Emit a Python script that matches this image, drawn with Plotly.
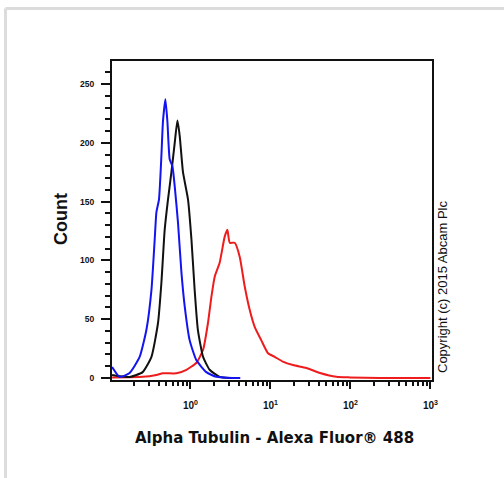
import plotly.graph_objects as go

# ---- data ----
blue_x = [0.105, 0.131, 0.174, 0.232, 0.282, 0.326, 0.358, 0.376, 0.405, 0.434, 0.454, 0.487,
          0.516, 0.551, 0.596, 0.637, 0.700, 0.772, 0.849, 0.98, 1.19, 1.58, 2.11, 3.38, 4.2]
blue_y = [9.4, 0.9, 4.3, 17.9, 41, 75, 118, 141, 152, 189, 218, 237,
          218, 186, 180, 163, 132, 90, 61, 32, 15, 5, 1, 0, 0]

black_x = [0.105, 0.174, 0.253, 0.326, 0.394, 0.434, 0.477, 0.525, 0.579, 0.637, 0.688,
           0.735, 0.808, 0.933, 1.03, 1.13, 1.24, 1.44, 1.74, 2.32, 3.10, 3.6]
black_y = [2.6, 0.9, 5, 18, 47, 81, 126, 152, 175, 200, 219,
           206, 175, 152, 118, 75, 41, 18, 7, 1, 0, 0]

red_x = [0.105, 0.253, 0.376, 0.454, 0.668, 0.891, 1.19, 1.44, 1.66, 1.83, 2.01, 2.32, 2.68,
         2.90, 3.10, 3.58, 4.14, 4.77, 5.51, 6.36, 7.70, 9.34, 11.3, 14.3, 19.2, 28.1, 41.7,
         66.8, 98.5, 232, 1000]
red_y = [0.5, 1, 2.6, 4, 4, 7, 13, 24, 47, 69, 86, 98, 120,
         126, 115, 115, 103, 78, 58, 43.5, 32, 21, 18, 14, 11, 8.5, 4.3,
         1, 0.5, 0, 0]

x_major = [1, 10, 100, 1000]
x_major_text = ["10<sup>0</sup>", "10<sup>1</sup>", "10<sup>2</sup>", "10<sup>3</sup>"]
x_minor = [m * 10 ** e for e in (-1, 0, 1, 2) for m in range(2, 10)]
y_major = [0, 50, 100, 150, 200, 250]

x_title = "Alpha Tubulin - Alexa Fluor® 488"
y_title = "Count"
copyright_text = "Copyright (c) 2015 Abcam Plc"

fig = go.Figure()
for xs, ys, col in [(red_x, red_y, "#ee1c1c"), (black_x, black_y, "#111111"), (blue_x, blue_y, "#1414f0")]:
    fig.add_trace(go.Scatter(x=xs, y=ys, mode="lines",
                             line=dict(color=col, width=2, shape="spline", smoothing=0.5),
                             hoverinfo="skip", showlegend=False))

L, R, T, B = 112, 432, 61, 380
W, H = 504, 478

fig.update_layout(
    width=W, height=H,
    margin=dict(l=L, r=W - R, t=T, b=H - B, pad=0),
    paper_bgcolor="white", plot_bgcolor="white",
    font=dict(family="Arial, Liberation Sans, sans-serif", color="#111111"),
    xaxis=dict(type="log", range=[-0.98, 3.02], showgrid=False, zeroline=False,
               showline=True, linecolor="#111111", linewidth=2, mirror=True,
               ticks="outside", ticklen=7, tickwidth=2, tickcolor="#111111",
               tickmode="array", tickvals=x_major, ticktext=x_major_text,
               tickfont=dict(size=10, weight="bold"), ticklabelstandoff=8,
               minor=dict(tickmode="array", tickvals=x_minor, ticks="outside",
                          ticklen=4, tickwidth=1.5, tickcolor="#111111", showgrid=False)),
    yaxis=dict(range=[-1.7, 269.6], showgrid=False, zeroline=False,
               showline=True, linecolor="#111111", linewidth=2, mirror=True,
               ticks="outside", ticklen=9, tickwidth=2, tickcolor="#111111",
               tickmode="array", tickvals=y_major,
               tickfont=dict(size=8.5, weight="bold"), ticklabelstandoff=5,
               minor=dict(dtick=10, ticks="outside", ticklen=5, tickwidth=1.5,
                          tickcolor="#111111", showgrid=False)),
)

def px(xp):
    return (xp - L) / (R - L)

def py(yp):
    return (B - yp) / (B - T)

fig.add_annotation(text=x_title, xref="paper", yref="paper", x=px(274), y=py(438),
                   showarrow=False,
                   font=dict(family="DejaVu Sans, Arial, sans-serif", size=15, weight="bold", color="#111111"),
                   xanchor="center", yanchor="middle")
fig.add_annotation(text=y_title, xref="paper", yref="paper", x=px(61), y=py(219),
                   showarrow=False, textangle=-90, font=dict(size=18, weight="bold", color="#111111"),
                   xanchor="center", yanchor="middle")
fig.add_annotation(text=copyright_text, xref="paper", yref="paper", x=px(442), y=py(287),
                   showarrow=False, textangle=-90, font=dict(size=13, color="#111111"),
                   xanchor="center", yanchor="middle")

# light grey outer frame (top and left)
fig.add_shape(type="line", xref="paper", yref="paper", x0=px(5.5), x1=px(504), y0=py(8.5), y1=py(8.5),
              line=dict(color="#dcdcdc", width=3))
fig.add_shape(type="line", xref="paper", yref="paper", x0=px(5.5), x1=px(5.5), y0=py(8.5), y1=py(478),
              line=dict(color="#dcdcdc", width=3))

fig.write_html("out.html", config={"displayModeBar": False},
               post_script="document.body.style.margin='0';document.body.style.overflow='hidden';")
